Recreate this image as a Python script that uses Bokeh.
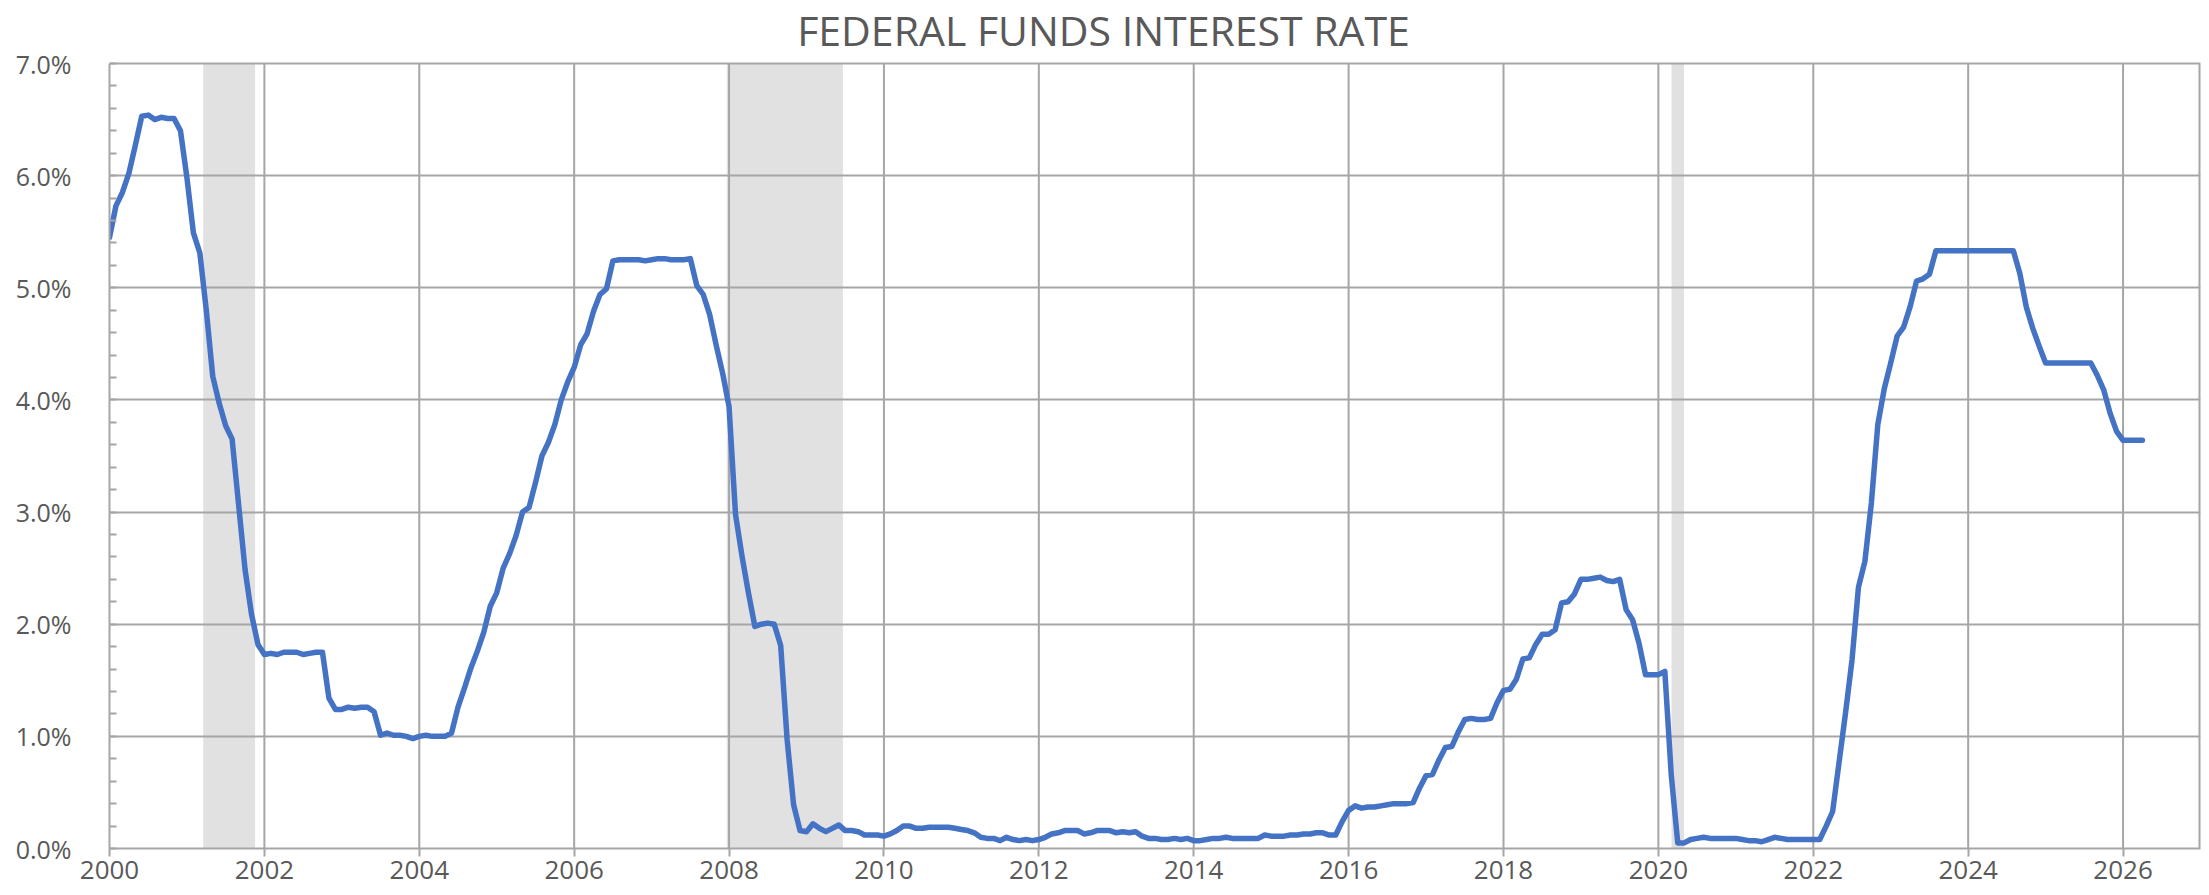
from bokeh.plotting import figure
from bokeh.models import FixedTicker, PrintfTickFormatter, Range1d, Label
from bokeh.embed import file_html
from bokeh.resources import INLINE

# ---- data: monthly effective federal funds rate (%), Jan 2000 .. Apr 2026 ----
start_year = 2000
rate_2000 = [5.45, 5.73, 5.85, 6.02, 6.27, 6.53, 6.54, 6.50, 6.52, 6.51, 6.51, 6.40]
rate_2001 = [5.98, 5.49, 5.31, 4.80, 4.21, 3.97, 3.77, 3.65, 3.07, 2.49, 2.09, 1.82]
rate_2002 = [1.73, 1.74, 1.73, 1.75, 1.75, 1.75, 1.73, 1.74, 1.75, 1.75, 1.34, 1.24]
rate_2003 = [1.24, 1.26, 1.25, 1.26, 1.26, 1.22, 1.01, 1.03, 1.01, 1.01, 1.00, 0.98]
rate_2004 = [1.00, 1.01, 1.00, 1.00, 1.00, 1.03, 1.26, 1.43, 1.61, 1.76, 1.93, 2.16]
rate_2005 = [2.28, 2.50, 2.63, 2.79, 3.00, 3.04, 3.26, 3.50, 3.62, 3.78, 4.00, 4.16]
rate_2006 = [4.29, 4.49, 4.59, 4.79, 4.94, 4.99, 5.24, 5.25, 5.25, 5.25, 5.25, 5.24]
rate_2007 = [5.25, 5.26, 5.26, 5.25, 5.25, 5.25, 5.26, 5.02, 4.94, 4.76, 4.49, 4.24]
rate_2008 = [3.94, 2.98, 2.61, 2.28, 1.98, 2.00, 2.01, 2.00, 1.81, 0.97, 0.39, 0.16]
rate_2009 = [0.15, 0.22, 0.18, 0.15, 0.18, 0.21, 0.16, 0.16, 0.15, 0.12, 0.12, 0.12]
rate_2010 = [0.11, 0.13, 0.16, 0.20, 0.20, 0.18, 0.18, 0.19, 0.19, 0.19, 0.19, 0.18]
rate_2011 = [0.17, 0.16, 0.14, 0.10, 0.09, 0.09, 0.07, 0.10, 0.08, 0.07, 0.08, 0.07]
rate_2012 = [0.08, 0.10, 0.13, 0.14, 0.16, 0.16, 0.16, 0.13, 0.14, 0.16, 0.16, 0.16]
rate_2013 = [0.14, 0.15, 0.14, 0.15, 0.11, 0.09, 0.09, 0.08, 0.08, 0.09, 0.08, 0.09]
rate_2014 = [0.07, 0.07, 0.08, 0.09, 0.09, 0.10, 0.09, 0.09, 0.09, 0.09, 0.09, 0.12]
rate_2015 = [0.11, 0.11, 0.11, 0.12, 0.12, 0.13, 0.13, 0.14, 0.14, 0.12, 0.12, 0.24]
rate_2016 = [0.34, 0.38, 0.36, 0.37, 0.37, 0.38, 0.39, 0.40, 0.40, 0.40, 0.41, 0.54]
rate_2017 = [0.65, 0.66, 0.79, 0.90, 0.91, 1.04, 1.15, 1.16, 1.15, 1.15, 1.16, 1.30]
rate_2018 = [1.41, 1.42, 1.51, 1.69, 1.70, 1.82, 1.91, 1.91, 1.95, 2.19, 2.20, 2.27]
rate_2019 = [2.40, 2.40, 2.41, 2.42, 2.39, 2.38, 2.40, 2.13, 2.04, 1.83, 1.55, 1.55]
rate_2020 = [1.55, 1.58, 0.65, 0.05, 0.05, 0.08, 0.09, 0.10, 0.09, 0.09, 0.09, 0.09]
rate_2021 = [0.09, 0.08, 0.07, 0.07, 0.06, 0.08, 0.10, 0.09, 0.08, 0.08, 0.08, 0.08]
rate_2022 = [0.08, 0.08, 0.20, 0.33, 0.77, 1.21, 1.68, 2.33, 2.56, 3.08, 3.78, 4.10]
rate_2023 = [4.33, 4.57, 4.65, 4.83, 5.06, 5.08, 5.12, 5.33, 5.33, 5.33, 5.33, 5.33]
rate_2024 = [5.33, 5.33, 5.33, 5.33, 5.33, 5.33, 5.33, 5.33, 5.13, 4.83, 4.64, 4.48]
rate_2025 = [4.33, 4.33, 4.33, 4.33, 4.33, 4.33, 4.33, 4.33, 4.22, 4.09, 3.88, 3.72]
rate_2026 = [3.64, 3.64, 3.64, 3.64]

yearly = [rate_2000, rate_2001, rate_2002, rate_2003, rate_2004, rate_2005, rate_2006,
          rate_2007, rate_2008, rate_2009, rate_2010, rate_2011, rate_2012, rate_2013,
          rate_2014, rate_2015, rate_2016, rate_2017, rate_2018, rate_2019, rate_2020,
          rate_2021, rate_2022, rate_2023, rate_2024, rate_2025, rate_2026]

# recession periods (decimal years)
recession_start = [2001.21, 2007.97, 2020.17]
recession_end = [2001.88, 2009.47, 2020.33]

x_ticks = [2000, 2002, 2004, 2006, 2008, 2010, 2012, 2014, 2016, 2018, 2020, 2022, 2024, 2026]
y_ticks = [0, 1, 2, 3, 4, 5, 6, 7]

title_text = "FEDERAL FUNDS INTEREST RATE"

dates = []
rates = []
for i, yr in enumerate(yearly):
    for m, v in enumerate(yr):
        dates.append(start_year + i + m / 12.0)
        rates.append(v)

GRID = "#A6A6A6"
TEXT = "#595959"
FONT = "Open Sans"

X0, X1 = 2000, 2027
Y0, Y1 = 0, 7
# the frame reaches the top of the canvas; the 0-7% band keeps 785 of its 848 px,
# the strip above 7% holds the title
Y_TOP = Y1 * 848 / 785

p = figure(width=2202, height=895, output_backend="svg", toolbar_location=None,
           x_range=Range1d(X0, X1), y_range=Range1d(Y0, Y_TOP),
           min_border_left=109, min_border_right=2, min_border_top=0, min_border_bottom=47)

p.background_fill_color = "white"
p.border_fill_color = "white"
p.outline_line_color = None

# recession shading (lowest layer)
p.quad(left=recession_start, right=recession_end, bottom=Y0, top=Y1,
       fill_color="#E1E1E1", line_color=None, level="image")

# vertical grid lines and right border of the plot area, limited to 0-7%
grid_x = x_ticks[1:]
p.segment(x0=grid_x, y0=[Y0] * len(grid_x), x1=grid_x, y1=[Y1] * len(grid_x),
          line_color=GRID, line_width=2, level="underlay")
p.segment(x0=[X1], y0=[Y0], x1=[X1], y1=[Y1], line_color=GRID, line_width=4, level="underlay")

p.line(dates, rates, line_color="#4472C4", line_width=5.5, line_join="round", line_cap="round")

# chart title: its text box starts 1px below the top of the canvas
p.add_layout(Label(x=2012.835, y=Y1, y_offset=62, text=title_text, text_font=FONT,
                   text_font_size="41px", text_color=TEXT, text_align="center",
                   text_baseline="top"))

minor = [round(i * 0.2, 1) for i in range(36)]
p.yaxis.ticker = FixedTicker(ticks=y_ticks, minor_ticks=minor)
p.yaxis.formatter = PrintfTickFormatter(format="%.1f%%")
p.yaxis.bounds = (Y0, Y1)
p.xaxis.ticker = FixedTicker(ticks=x_ticks, minor_ticks=[])

for ax in (p.xaxis[0], p.yaxis[0]):
    ax.axis_line_color = GRID
    ax.axis_line_width = 2
    ax.major_tick_line_color = GRID
    ax.major_tick_line_width = 2
    ax.minor_tick_line_color = GRID
    ax.minor_tick_line_width = 2
    ax.major_label_text_color = TEXT
    ax.major_label_text_font = FONT

p.yaxis.major_label_text_font_size = "25px"
p.yaxis.major_tick_in = 0
p.yaxis.major_tick_out = 0
p.yaxis.minor_tick_in = 7
p.yaxis.minor_tick_out = 0
p.yaxis.major_label_standoff = 38

p.xaxis.major_label_text_font_size = "26px"
p.xaxis.major_tick_in = 0
p.xaxis.major_tick_out = 8
p.xaxis.major_label_standoff = 4

p.xgrid.visible = False
p.ygrid.grid_line_color = GRID
p.ygrid.grid_line_width = 2

open("out.html", "w").write(file_html(p, INLINE))
